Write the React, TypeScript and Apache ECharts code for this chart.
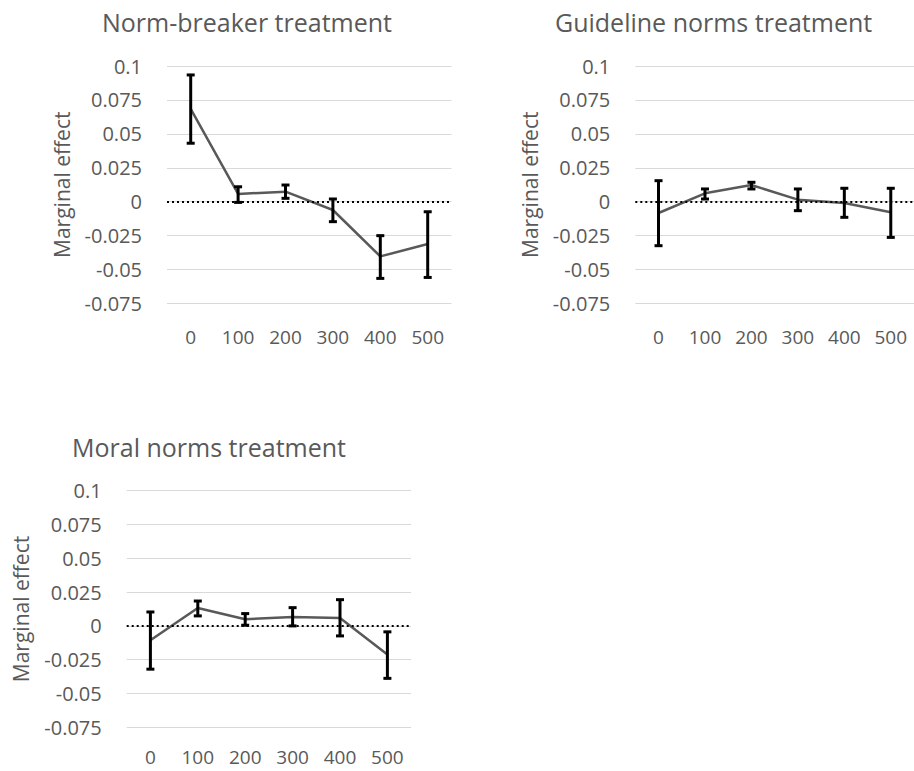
import React, { useEffect, useRef } from "react";
import * as echarts from "echarts";

const categories = ["0", "100", "200", "300", "400", "500"];
const yTicks = [0.1, 0.075, 0.05, 0.025, 0, -0.025, -0.05, -0.075];

const titles = ["Norm-breaker treatment", "Guideline norms treatment", "Moral norms treatment"];

const normBreakerValues = [0.0684, 0.0057, 0.0074, -0.0061, -0.0403, -0.0312];
const normBreakerLow = [0.0431, -0.0005, 0.0025, -0.0147, -0.0565, -0.0558];
const normBreakerHigh = [0.0934, 0.011, 0.0123, 0.002, -0.025, -0.0074];

const guidelineValues = [-0.0083, 0.0062, 0.0123, 0.0015, -0.001, -0.0078];
const guidelineLow = [-0.0324, 0.002, 0.0094, -0.0066, -0.0115, -0.0263];
const guidelineHigh = [0.0155, 0.0094, 0.0143, 0.0094, 0.0099, 0.0099];

const moralValues = [-0.0106, 0.0133, 0.0049, 0.0066, 0.0059, -0.0211];
const moralLow = [-0.032, 0.0074, 0.0005, 0.0, -0.0074, -0.0388];
const moralHigh = [0.0103, 0.0184, 0.0091, 0.0135, 0.0194, -0.0044];

const FONT = "Open Sans";
const TEXT = "#595959";

const panels = [
  { values: normBreakerValues, low: normBreakerLow, high: normBreakerHigh, grid: { left: 167, top: 66, width: 284.4, height: 237.5 }, title: { left: 97, top: 4 }, labelMargin: 24 },
  { values: guidelineValues, low: guidelineLow, high: guidelineHigh, grid: { left: 635.3, top: 66, width: 284.4, height: 237.5 }, title: { left: 550, top: 4 }, labelMargin: 24 },
  { values: moralValues, low: moralLow, high: moralHigh, grid: { left: 126.7, top: 490.7, width: 284.4, height: 236.6 }, title: { left: 67, top: 429 }, labelMargin: 20 },
];

export default function App() {
  const ref = useRef<HTMLDivElement>(null);
  useEffect(() => {
    if (!ref.current) return;
    const chart = echarts.init(ref.current, null, { renderer: "svg" });
    const grids: any[] = [];
    const xAxes: any[] = [];
    const yAxes: any[] = [];
    const series: any[] = [];
    const titleOpts: any[] = [];
    panels.forEach((p, i) => {
      grids.push({ ...p.grid, containLabel: false });
      titleOpts.push({
        text: titles[i],
        left: p.title.left,
        top: p.title.top,
        textStyle: { fontFamily: FONT, fontSize: 25, fontWeight: "normal", color: TEXT },
      });
      xAxes.push({
        type: "category",
        gridIndex: i,
        data: categories,
        boundaryGap: true,
        axisLine: { show: false },
        axisTick: { show: false },
        axisLabel: { fontFamily: FONT, fontSize: 19, lineHeight: 19, color: TEXT, margin: p.labelMargin },
        splitLine: { show: false },
      });
      yAxes.push({
        type: "value",
        gridIndex: i,
        min: -0.075,
        max: 0.1,
        interval: 0.025,
        axisLine: { show: false },
        axisTick: { show: false },
        axisLabel: {
          fontFamily: FONT,
          fontSize: 20,
          color: TEXT,
          margin: 25,
          formatter: (v: number) => {
            const r = Math.round(v * 1000) / 1000;
            const t = yTicks.find((k) => Math.abs(k - r) < 1e-9);
            return String(t !== undefined ? t : r);
          },
        },
        splitLine: { show: true, lineStyle: { color: "#d9d9d9", width: 1 } },
        name: "Marginal effect",
        nameLocation: "middle",
        nameRotate: 90,
        nameGap: 95,
        nameTextStyle: { fontFamily: FONT, fontSize: 21, color: TEXT },
      });
      series.push({
        type: "line",
        xAxisIndex: i,
        yAxisIndex: i,
        data: p.values,
        symbol: "none",
        lineStyle: { color: "#595959", width: 2.5 },
        z: 3,
        markLine: {
          silent: true,
          symbol: ["none", "none"],
          label: { show: false },
          lineStyle: { color: "#000", type: [2, 3], width: 2 },
          data: [{ yAxis: 0 }],
        },
      });
      series.push({
        type: "custom",
        xAxisIndex: i,
        yAxisIndex: i,
        z: 4,
        data: categories.map((_, j) => [j, p.low[j], p.high[j]]),
        renderItem: (params: any, api: any) => {
          const x = api.value(0);
          const lo = api.coord([x, api.value(1)]);
          const hi = api.coord([x, api.value(2)]);
          const cap = 4;
          const style = { stroke: "#000", lineWidth: 3 };
          return {
            type: "group",
            children: [
              { type: "line", shape: { x1: lo[0], y1: lo[1], x2: hi[0], y2: hi[1] }, style },
              { type: "line", shape: { x1: hi[0] - cap, y1: hi[1], x2: hi[0] + cap, y2: hi[1] }, style },
              { type: "line", shape: { x1: lo[0] - cap, y1: lo[1], x2: lo[0] + cap, y2: lo[1] }, style },
            ],
          };
        },
      });
    });
    chart.setOption({
      animation: false,
      backgroundColor: "#ffffff",
      title: titleOpts,
      grid: grids,
      xAxis: xAxes,
      yAxis: yAxes,
      series,
    });
    return () => chart.dispose();
  }, []);
  return (
    <div
      ref={ref}
      style={{ position: "fixed", left: 0, top: 0, width: 914, height: 771, background: "#fff" }}
    />
  );
}
